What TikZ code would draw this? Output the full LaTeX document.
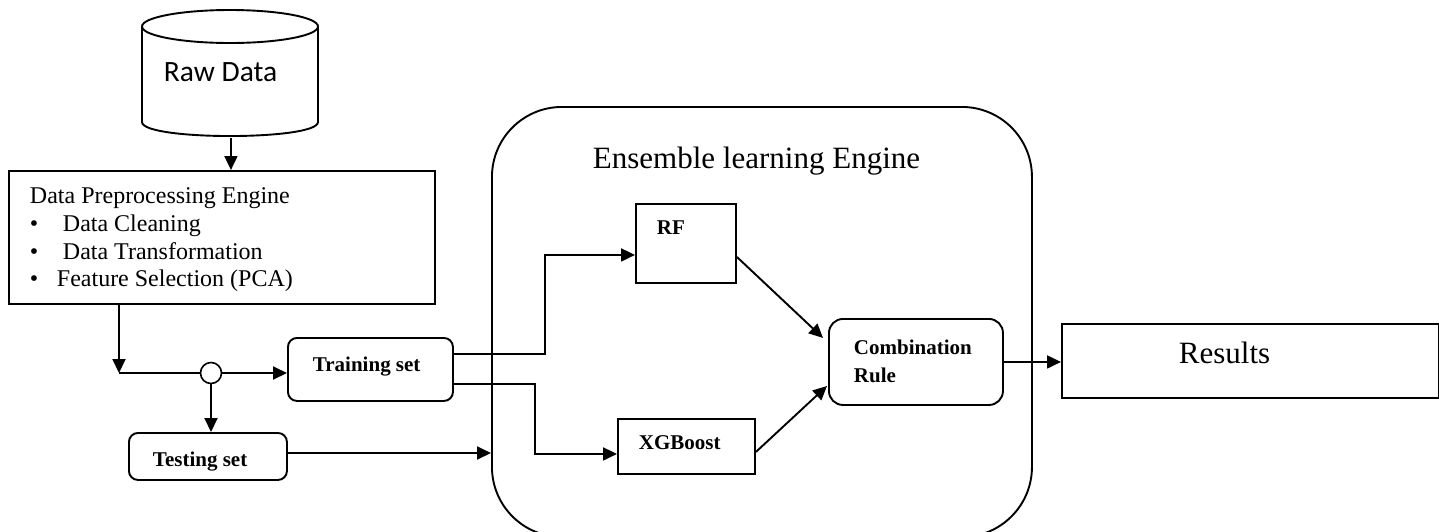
\documentclass[tikz,border=0pt]{standalone}
\usepackage{fontspec}
\newfontfamily\tnr{Liberation Serif}
\newfontfamily\cbr{Carlito}
\usetikzlibrary{arrows.meta}
\begin{document}
\begin{tikzpicture}[x=1pt,y=-1pt,line width=1.9pt,
  box/.style={draw,rectangle,inner sep=0pt},
  rbox/.style={box,rounded corners=9pt},
  arr/.style={-{Triangle[length=14pt,width=13pt]}},
  txt/.style={inner sep=0pt,anchor=base west,font=\tnr\fontsize{24}{28}\selectfont},
  btxt/.style={inner sep=0pt,anchor=base west,font=\tnr\bfseries\fontsize{21}{27}\selectfont},
  bigtxt/.style={inner sep=0pt,anchor=base west,font=\tnr\fontsize{31}{36}\selectfont}]
\clip (0,0) rectangle (1439,531);
\useasboundingbox (0,0) rectangle (1439,531);

% raw data store (cylinder)
\node[minimum width=176pt,minimum height=126pt,inner sep=0pt,anchor=north west] (raw) at (142,10) {};
\draw (230,26.5) ellipse [x radius=88pt,y radius=16.5pt];
\draw (142,26.5) -- (142,122) .. controls (142,140.7) and (318,140.7) .. (318,122) -- (318,26.5);
\node[inner sep=0pt,anchor=base west,font=\cbr\fontsize{29.5}{34}\selectfont] (rawtxt) at (163,81) {Raw Data};

% preprocessing engine
\node[box,minimum width=426pt,minimum height=133pt,anchor=north west] (pre) at (8,170) {};
\node[txt] (pl1) at (29,203) {Data Preprocessing Engine};
\node[txt] (pl2) at (29,231) {\makebox[33pt][l]{\textbullet}Data Cleaning};
\node[txt] (pl3) at (29,259) {\makebox[33pt][l]{\textbullet}Data Transformation};
\node[txt] (pl4) at (29,286) {\makebox[27pt][l]{\textbullet}Feature Selection (PCA)};

\draw[arr] (raw.south) -- (raw.south |- pre.north);

% split into training and testing data
\coordinate (turn) at (119,373);
\node[draw,circle,minimum size=21pt,inner sep=0pt,line width=1.6pt] (split) at (211,373) {};
\node[rbox,minimum width=165pt,minimum height=63pt,anchor=north west] (train) at (287,337) {};
\node[btxt] (traintxt) at (312,371) {Training set};
\node[rbox,minimum width=158pt,minimum height=47pt,anchor=north west] (test) at (128,432) {};
\node[btxt] (testtxt) at (152,466) {Testing set};

\draw[arr] (pre.south -| turn) -- (turn);
\draw (turn) -- (split.west);
\draw[arr] (split.east) -- (train.west |- split.east);
\draw[arr] (split.south) -- (split.south |- test.north);

% ensemble learning engine
\node[box,rounded corners=70pt,minimum width=540pt,minimum height=430pt,anchor=north west] (ens) at (491,106) {};
\node[bigtxt] (enstxt) at (592,168) {Ensemble learning Engine};
\coordinate (tin) at (491,453);

\node[box,minimum width=100pt,minimum height=79pt,anchor=north west] (rf) at (635,203) {};
\node[btxt] (rftxt) at (656,234) {RF};
\node[box,minimum width=137pt,minimum height=55pt,anchor=north west] (xgb) at (617,418) {};
\node[btxt] (xgbtxt) at (638,449) {XGBoost};
\node[rbox,rounded corners=14pt,minimum width=174pt,minimum height=86pt,anchor=north west] (comb) at (828,318) {};
\node[btxt] (combtxt1) at (853,354) {Combination};
\node[btxt] (combtxt2) at (853,382) {Rule};

\node[box,minimum width=377pt,minimum height=74pt,anchor=north west] (res) at (1061,323) {};
\node[bigtxt] (restxt) at (1178,363) {Results};

% connectors
\draw[arr] (test.east |- tin) -- (tin);
\draw[arr] ([yshift=15.5pt]train.east) -- ++(91,0) |- ([yshift=-11.5pt]rf.west);
\draw[arr] ([yshift=-14.5pt]train.east) -- ++(81,0) |- ([yshift=-7.5pt]xgb.west);
\draw[arr] ([yshift=-13.5pt]rf.east) -- ([xshift=-5pt,yshift=24pt]comb.west);
\draw[arr] ([yshift=-5.5pt]xgb.east) -- ([xshift=-1pt,yshift=-24pt]comb.west);
\draw[arr] (comb.east) -- (res.west |- comb.east);
\end{tikzpicture}
\end{document}
